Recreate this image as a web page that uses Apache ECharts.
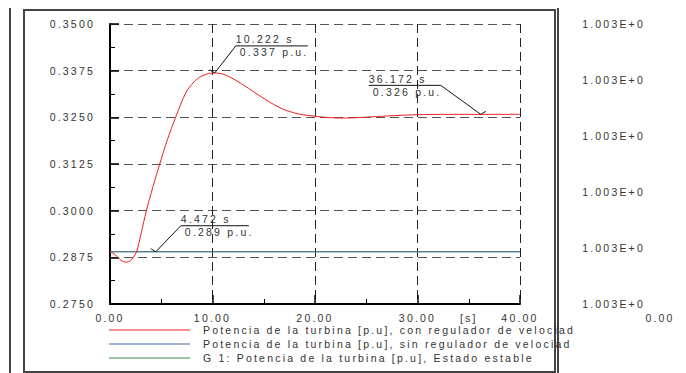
<!DOCTYPE html>
<html><head><meta charset="utf-8">
<script src="https://cdn.jsdelivr.net/npm/echarts@6/dist/echarts.min.js"></script>
<style>
html,body{margin:0;padding:0;background:#fff;}
#c{width:686px;height:373px;}
#c text{letter-spacing:2.2px;}
</style></head><body><div id="c"></div>
<script>
// ---- data ----
const redT = [0, 0.4, 0.8, 1.2, 1.6, 2.0, 2.3, 2.6, 3.0, 3.55, 4.2, 4.85, 5.6, 6.4, 7.4, 8.2, 8.9, 9.6, 10.222, 11.0, 11.9, 13.5, 15.2, 16.8, 18.4, 20.0, 21.0, 22.5, 24.0, 26.0, 28.0, 30.0, 33.0, 36.172, 40.0];
const redV = [0.2890, 0.2884, 0.2874, 0.2865, 0.2862, 0.2866, 0.2876, 0.2890, 0.2935, 0.3000, 0.3065, 0.3125, 0.3190, 0.3250, 0.3316, 0.3345, 0.3360, 0.3367, 0.3369, 0.3366, 0.3355, 0.3328, 0.3297, 0.3273, 0.3259, 0.3253, 0.3250, 0.3248, 0.3249, 0.3252, 0.3255, 0.3257, 0.3258, 0.3258, 0.3258];
const blueT = [0, 40];
const blueV = [0.289, 0.289];
const greenT = [0, 40];
const greenV = [0.289, 0.289];
const seriesNames = [
  'Potencia de la turbina [p.u], con regulador de velociad',
  'Potencia de la turbina [p.u], sin regulador de velociad',
  'G 1: Potencia de la turbina [p.u], Estado estable'
];
const xTickValues = [0, 10, 20, 30, 35, 40];
const xTickLabels = ['0.00', '10.00', '20.00', '30.00', '[s]', '40.00'];
const callT = [10.222, 36.172, 4.472];
const callV = [0.3369, 0.3258, 0.289];

// ---- chart ----
const font = "'Liberation Sans', Arial, sans-serif";
const fs = 10.5;
const txt = '#333';
const chart = echarts.init(document.getElementById('c'), null, {renderer: 'svg'});
const zip = (a, b) => a.map((x, i) => [x, b[i]]);

chart.setOption({
  animation: false,
  textStyle: {fontFamily: font, fontSize: fs, color: txt},
  grid: [
    {left: 110, top: 24, width: 410, height: 280},
    {left: 660, top: 24, width: 10, height: 280}
  ],
  xAxis: [{
    type: 'value', gridIndex: 0, min: 0, max: 40, interval: 10,
    axisLine: {lineStyle: {color: '#000', width: 2}},
    axisTick: {inside: true, length: 9, lineStyle: {color: '#000', width: 1.5}},
    minorTick: {show: true, splitNumber: 2, length: 5, lineStyle: {color: '#000', width: 1}},
    splitLine: {show: true, lineStyle: {color: '#222', width: 1, type: [9, 5]}},
    axisLabel: {
      customValues: xTickValues, margin: 8, color: txt, fontSize: fs, fontFamily: font,
      formatter: v => xTickLabels[xTickValues.indexOf(v)] ?? ''
    }
  }, {
    type: 'value', gridIndex: 1, min: 0, max: 40, interval: 40,
    axisLine: {show: false}, axisTick: {show: false}, splitLine: {show: false},
    axisLabel: {customValues: [0], margin: 8, color: txt, fontSize: fs, fontFamily: font, formatter: v => v.toFixed(2)}
  }],
  yAxis: [{
    type: 'value', gridIndex: 0, min: 0.275, max: 0.35, interval: 0.0125,
    axisLine: {show: true, lineStyle: {color: '#000', width: 2}},
    axisTick: {show: true, inside: true, length: 9, lineStyle: {color: '#000', width: 1.5}},
    minorTick: {show: true, splitNumber: 2, length: 5, lineStyle: {color: '#000', width: 1}},
    splitLine: {show: true, lineStyle: {color: '#555', width: 1, type: [9, 5]}},
    axisLabel: {margin: 15, color: txt, fontSize: fs, fontFamily: font, formatter: v => v.toFixed(4)}
  }, {
    type: 'value', gridIndex: 1, min: 1.0028, max: 1.0033, interval: 0.0001, position: 'left',
    axisLine: {show: false}, axisTick: {show: false}, splitLine: {show: false},
    axisLabel: {margin: 15, color: txt, fontSize: fs, fontFamily: font,
      formatter: v => v.toExponential(3).toUpperCase()}
  }],
  legend: {
    orient: 'vertical', left: 109, top: 324, padding: 0, itemWidth: 81, itemHeight: 1.2, itemGap: 2,
    icon: 'rect', data: seriesNames, selectedMode: false,
    textStyle: {fontFamily: font, fontSize: fs, color: txt, lineHeight: 12, padding: [0, 0, 0, 8]}
  },
  series: [
    {name: seriesNames[2], type: 'line', data: zip(greenT, greenV), showSymbol: false, z: 1,
      lineStyle: {color: '#3c8c4c', width: 1}, itemStyle: {color: '#3c8c4c'}},
    {name: seriesNames[1], type: 'line', data: zip(blueT, blueV), showSymbol: false, z: 2,
      lineStyle: {color: '#52709e', width: 1.2}, itemStyle: {color: '#4a62a8'}},
    {name: seriesNames[0], type: 'line', data: zip(redT, redV), showSymbol: false, smooth: 0.3, z: 3,
      lineStyle: {color: '#ee2020', width: 1}, itemStyle: {color: '#ee2020'}}
  ]
});

// ---- callouts (positions from the axes) ----
const callDir = [1, -1, 1];
const callLead = [[21, -27], [-40, -29], [25, -26]];
const callLen = [72, 72, 68];
const els = [];
callT.forEach((t, i) => {
  const [px, py] = chart.convertToPixel({gridIndex: 0}, [t, callV[i]]);
  const d = callDir[i];
  const ex = px + callLead[i][0], ey = py + callLead[i][1];
  const fx = ex + d * callLen[i];
  els.push({type: 'polyline', shape: {points: [[px - d * 5, py - 3], [px, py], [ex, ey], [fx, ey]]},
    style: {stroke: '#111', lineWidth: 1, fill: null}, z: 10});
  const left = Math.min(ex, fx);
  els.push({type: 'text', x: left, y: ey - 1, style: {text: t.toFixed(3) + ' s', font: fs + 'px ' + font,
    fill: txt, verticalAlign: 'bottom'}, z: 10});
  els.push({type: 'text', x: left + 4, y: ey + 1, style: {text: callV[i].toFixed(3) + ' p.u.', font: fs + 'px ' + font,
    fill: txt, verticalAlign: 'top'}, z: 10});
});
// frame
els.push({type: 'rect', shape: {x: 24, y: 10, width: 531, height: 362}, style: {stroke: '#444', lineWidth: 2, fill: null}, silent: true});
els.push({type: 'line', shape: {x1: 10, y1: 8, x2: 10, y2: 373}, style: {stroke: '#444', lineWidth: 2}, silent: true});
els.push({type: 'line', shape: {x1: 558, y1: 8, x2: 558, y2: 373}, style: {stroke: '#444', lineWidth: 2}, silent: true});
chart.setOption({graphic: {elements: els}});
</script></body></html>
